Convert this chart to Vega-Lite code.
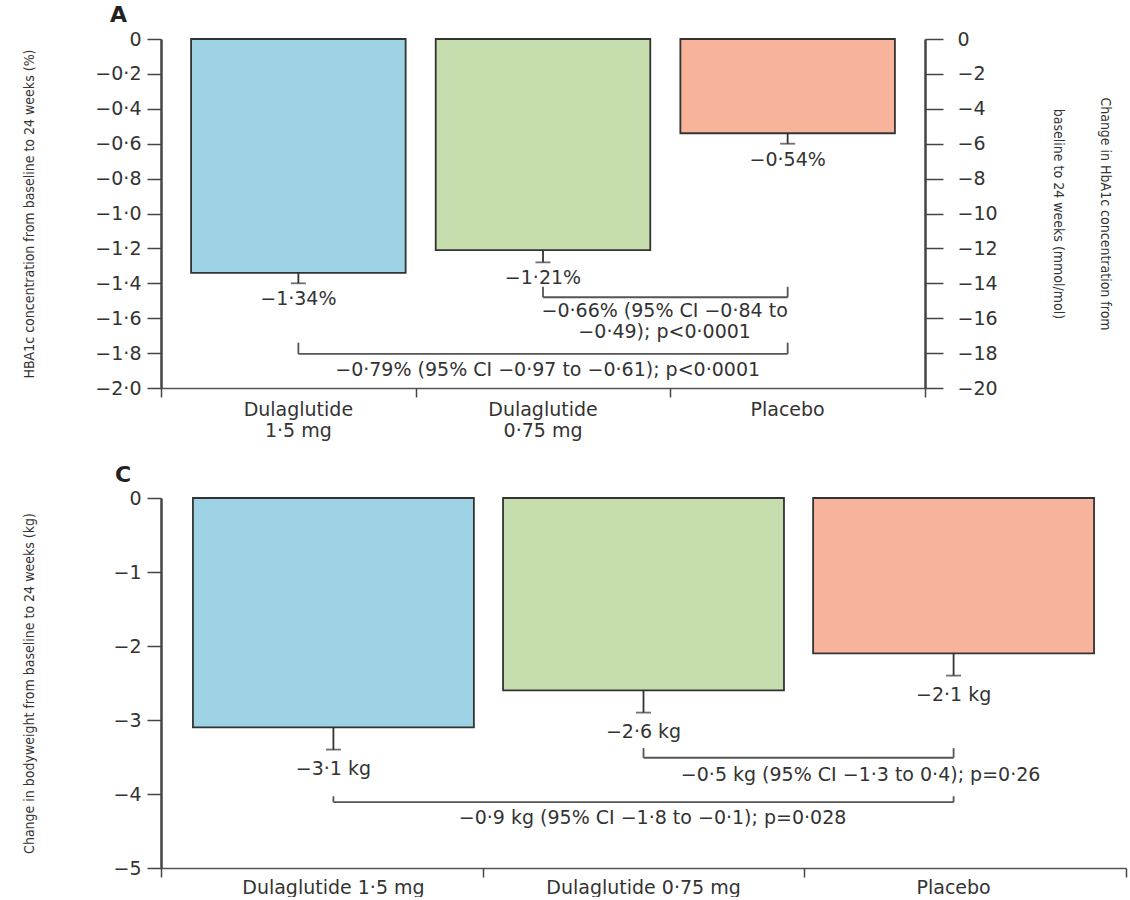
{
  "$schema": "https://vega.github.io/schema/vega-lite/v6.json",
  "padding": {"left": 22, "top": 4, "right": 0, "bottom": 0},
  "spacing": 24,
  "datasets": {
    "hba": [
      {"group": "Dulaglutide 1·5 mg", "change": -1.34, "low": -1.40},
      {"group": "Dulaglutide 0·75 mg", "change": -1.21, "low": -1.28},
      {"group": "Placebo", "change": -0.54, "low": -0.60}
    ],
    "hbaCmp": [
      {"pair": "0.75 vs placebo", "group": "Dulaglutide 0·75 mg", "group2": "Placebo", "level": -1.48, "top": -1.42, "text": "−0·66% (95% CI −0·84 to\n−0·49); p<0·0001"},
      {"pair": "1.5 vs placebo", "group": "Dulaglutide 1·5 mg", "group2": "Placebo", "level": -1.805, "top": -1.74, "text": "−0·79% (95% CI −0·97 to −0·61); p<0·0001"}
    ],
    "weight": [
      {"group": "Dulaglutide 1·5 mg", "change": -3.1, "low": -3.4},
      {"group": "Dulaglutide 0·75 mg", "change": -2.6, "low": -2.9},
      {"group": "Placebo", "change": -2.1, "low": -2.4}
    ],
    "weightCmp": [
      {"pair": "0.75 vs placebo", "group": "Dulaglutide 0·75 mg", "group2": "Placebo", "level": -3.51, "top": -3.38, "text": "−0·5 kg (95% CI −1·3 to 0·4); p=0·26"},
      {"pair": "1.5 vs placebo", "group": "Dulaglutide 1·5 mg", "group2": "Placebo", "level": -4.11, "top": -4.03, "text": "−0·9 kg (95% CI −1·8 to −0·1); p=0·028"}
    ]
  },
  "vconcat": [
    {
      "width": 764,
      "height": 349,
      "title": {"text": "A", "anchor": "start", "frame": "group", "fontSize": 22, "fontWeight": "bold", "font": "DejaVu Sans", "color": "#222", "dx": -51, "offset": 3},
      "layer": [
        {
          "layer": [
            {
              "data": {"name": "hba"},
              "mark": {"type": "bar", "stroke": "#333", "strokeWidth": 1.8},
              "encoding": {
                "x": {"field": "group", "type": "nominal", "sort": null,
                  "scale": {"domain": ["Dulaglutide 1·5 mg", "Dulaglutide 0·75 mg", "Placebo"], "paddingInner": 0.123, "paddingOuter": 0.123},
                  "axis": {"title": null, "orient": "bottom", "ticks": false, "tickSize": 0, "labelPadding": 12, "labelAngle": 0, "labelFontSize": 19, "labelLineHeight": 21, "labelBaseline": "top", "labelLimit": 0,
                    "labelExpr": "split(replace(datum.label, 'tide ', 'tide|'), '|')", "domainWidth": 1.5, "domainColor": "#555"}},
                "y": {"field": "change", "type": "quantitative",
                  "scale": {"domain": [-2, 0], "nice": false, "zero": false}, "axis": null},
                "color": {"field": "group", "type": "nominal", "legend": null,
                  "scale": {"domain": ["Dulaglutide 1·5 mg", "Dulaglutide 0·75 mg", "Placebo"], "range": ["#9DD3E5", "#C6DEAE", "#F8B49A"]}}
              }
            },
            {
              "data": {"name": "hba"},
              "mark": {"type": "rule", "color": "#333", "strokeWidth": 1.8},
              "encoding": {
                "x": {"field": "group", "type": "nominal"},
                "y": {"field": "change", "type": "quantitative", "axis": null},
                "y2": {"field": "low"}
              }
            },
            {
              "data": {"name": "hba"},
              "mark": {"type": "tick", "orient": "horizontal", "color": "#333", "size": 15, "thickness": 1.8},
              "encoding": {
                "x": {"field": "group", "type": "nominal"},
                "y": {"field": "low", "type": "quantitative", "axis": null}
              }
            },
            {
              "data": {"name": "hba"},
              "transform": [{"calculate": "replace(format(datum.change, '.2f'), '.', '·') + '%'", "as": "valueLabel"}],
              "mark": {"type": "text", "fontSize": 19, "baseline": "middle", "dy": 16, "color": "#333"},
              "encoding": {
                "x": {"field": "group", "type": "nominal"},
                "y": {"field": "low", "type": "quantitative", "axis": null},
                "text": {"field": "valueLabel"}
              }
            },
            {
              "mark": {"type": "rule", "color": "#999", "strokeWidth": 1.5, "strokeDash": [6, 4]},
              "encoding": {"y": {"datum": 0, "type": "quantitative", "axis": null}}
            },
            {
              "data": {"name": "hbaCmp"},
              "mark": {"type": "rule", "color": "#555", "strokeWidth": 1.8},
              "encoding": {
                "x": {"field": "group", "type": "nominal", "bandPosition": 0.5},
                "x2": {"field": "group2", "bandPosition": 0.5},
                "y": {"field": "level", "type": "quantitative", "axis": null}
              }
            },
            {
              "data": {"name": "hbaCmp"},
              "transform": [{"fold": ["group", "group2"], "as": ["end", "cat"]}],
              "mark": {"type": "rule", "color": "#555", "strokeWidth": 1.8},
              "encoding": {
                "x": {"field": "cat", "type": "nominal"},
                "y": {"field": "level", "type": "quantitative", "axis": null},
                "y2": {"field": "top"}
              }
            },
            {
              "data": {"name": "hbaCmp"},
              "transform": [{"filter": "datum.pair == '0.75 vs placebo'"}],
              "mark": {"type": "text", "fontSize": 19, "baseline": "top", "align": "center", "lineBreak": "\n", "lineHeight": 21, "dx": -123, "dy": 5, "color": "#333"},
              "encoding": {
                "x": {"field": "group2", "type": "nominal"},
                "y": {"field": "level", "type": "quantitative", "axis": null},
                "text": {"field": "text"}
              }
            },
            {
              "data": {"name": "hbaCmp"},
              "transform": [{"filter": "datum.pair == '1.5 vs placebo'"}],
              "mark": {"type": "text", "fontSize": 19, "baseline": "middle", "align": "center", "dx": -240, "dy": 16, "color": "#333"},
              "encoding": {
                "x": {"field": "group2", "type": "nominal"},
                "y": {"field": "level", "type": "quantitative", "axis": null},
                "text": {"field": "text"}
              }
            }
          ]
        },
        {
          "data": {"values": [{"boundary": 0}, {"boundary": 3}]},
          "mark": {"type": "point", "opacity": 0},
          "encoding": {
            "x": {"field": "boundary", "type": "quantitative",
              "scale": {"domain": [0, 3], "nice": false, "zero": false},
              "axis": {"orient": "bottom", "title": null, "values": [0, 1, 2, 3], "labels": false, "domain": false, "tickSize": 9, "tickWidth": 1.5, "tickColor": "#444"}},
            "y": {"datum": 0, "type": "quantitative",
              "scale": {"domain": [-2, 0], "nice": false, "zero": false},
              "axis": {"orient": "left", "title": "HBA1c concentration from baseline to 24 weeks (%)",
                "values": [0, -0.2, -0.4, -0.6, -0.8, -1.0, -1.2, -1.4, -1.6, -1.8, -2.0],
                "labelOverlap": false,
                "labelExpr": "datum.value == 0 ? '0' : replace(format(datum.value, '.1f'), '.', '·')",
                "labelFontSize": 19, "labelPadding": 6, "tickSize": 14, "tickWidth": 1.5, "domainWidth": 2.5,
                "titleFontSize": 14, "titlePadding": 10, "minExtent": 115, "maxExtent": 115}}
          }
        },
        {
          "data": {"values": [{"boundary": 0}]},
          "mark": {"type": "point", "opacity": 0},
          "encoding": {
            "y": {"datum": 0, "type": "quantitative",
              "scale": {"domain": [-2, 0], "nice": false, "zero": false},
              "axis": {"orient": "right", "title": ["Change in HbA1c concentration from", "baseline to 24 weeks (mmol/mol)"],
                "values": [0, -0.2, -0.4, -0.6, -0.8, -1.0, -1.2, -1.4, -1.6, -1.8, -2.0],
                "labelOverlap": false,
                "labelExpr": "datum.value == 0 ? '0' : format(datum.value * 10, '.0f')",
                "labelFontSize": 19, "labelPadding": 14, "tickSize": 18, "tickWidth": 1.5, "domainWidth": 2.5,
                "titleFontSize": 14, "titleLineHeight": 47, "titlePadding": 53}}
          }
        }
      ],
      "resolve": {"scale": {"x": "independent"}, "axis": {"x": "independent", "y": "independent"}}
    },
    {
      "width": 965,
      "height": 370,
      "title": {"text": "C", "anchor": "start", "frame": "group", "fontSize": 22, "fontWeight": "bold", "font": "DejaVu Sans", "color": "#222", "dx": -46, "offset": 2},
      "layer": [
        {
          "layer": [
            {
              "data": {"name": "weight"},
              "mark": {"type": "bar", "stroke": "#333", "strokeWidth": 1.8},
              "encoding": {
                "x": {"field": "group", "type": "nominal", "sort": null,
                  "scale": {"domain": ["Dulaglutide 1·5 mg", "Dulaglutide 0·75 mg", "Placebo"], "paddingInner": 0.094, "paddingOuter": 0.103},
                  "axis": {"title": null, "orient": "bottom", "ticks": false, "tickSize": 0, "labelPadding": 10, "labelAngle": 0, "labelFontSize": 19, "labelBaseline": "top", "labelLimit": 0, "domainWidth": 1.5, "domainColor": "#555"}},
                "y": {"field": "change", "type": "quantitative",
                  "scale": {"domain": [-5, 0], "nice": false, "zero": false},
                  "axis": {"orient": "left", "title": "Change in bodyweight from baseline to 24 weeks (kg)",
                    "values": [0, -1, -2, -3, -4, -5],
                    "labelOverlap": false,
                    "labelExpr": "format(datum.value, 'd')",
                    "labelFontSize": 19, "labelPadding": 6, "tickSize": 14, "tickWidth": 1.5, "domainWidth": 2.5,
                    "titleFontSize": 14, "titlePadding": 10, "minExtent": 115, "maxExtent": 115}},
                "color": {"field": "group", "type": "nominal", "legend": null,
                  "scale": {"domain": ["Dulaglutide 1·5 mg", "Dulaglutide 0·75 mg", "Placebo"], "range": ["#9DD3E5", "#C6DEAE", "#F8B49A"]}}
              }
            },
            {
              "data": {"name": "weight"},
              "mark": {"type": "rule", "color": "#333", "strokeWidth": 1.8},
              "encoding": {
                "x": {"field": "group", "type": "nominal"},
                "y": {"field": "change", "type": "quantitative"},
                "y2": {"field": "low"}
              }
            },
            {
              "data": {"name": "weight"},
              "mark": {"type": "tick", "orient": "horizontal", "color": "#333", "size": 15, "thickness": 1.8},
              "encoding": {
                "x": {"field": "group", "type": "nominal"},
                "y": {"field": "low", "type": "quantitative"}
              }
            },
            {
              "data": {"name": "weight"},
              "transform": [{"calculate": "replace(format(datum.change, '.1f'), '.', '·') + ' kg'", "as": "valueLabel"}],
              "mark": {"type": "text", "fontSize": 19, "baseline": "middle", "dy": 19, "color": "#333"},
              "encoding": {
                "x": {"field": "group", "type": "nominal"},
                "y": {"field": "low", "type": "quantitative"},
                "text": {"field": "valueLabel"}
              }
            },
            {
              "mark": {"type": "rule", "color": "#999", "strokeWidth": 1.5, "strokeDash": [6, 4]},
              "encoding": {"y": {"datum": 0, "type": "quantitative"}}
            },
            {
              "data": {"name": "weightCmp"},
              "mark": {"type": "rule", "color": "#555", "strokeWidth": 1.8},
              "encoding": {
                "x": {"field": "group", "type": "nominal", "bandPosition": 0.5},
                "x2": {"field": "group2", "bandPosition": 0.5},
                "y": {"field": "level", "type": "quantitative"}
              }
            },
            {
              "data": {"name": "weightCmp"},
              "transform": [{"fold": ["group", "group2"], "as": ["end", "cat"]}],
              "mark": {"type": "rule", "color": "#555", "strokeWidth": 1.8},
              "encoding": {
                "x": {"field": "cat", "type": "nominal"},
                "y": {"field": "level", "type": "quantitative"},
                "y2": {"field": "top"}
              }
            },
            {
              "data": {"name": "weightCmp"},
              "transform": [{"filter": "datum.pair == '0.75 vs placebo'"}],
              "mark": {"type": "text", "fontSize": 19, "baseline": "middle", "align": "center", "dx": -93, "dy": 17, "color": "#333"},
              "encoding": {
                "x": {"field": "group2", "type": "nominal"},
                "y": {"field": "level", "type": "quantitative"},
                "text": {"field": "text"}
              }
            },
            {
              "data": {"name": "weightCmp"},
              "transform": [{"filter": "datum.pair == '1.5 vs placebo'"}],
              "mark": {"type": "text", "fontSize": 19, "baseline": "middle", "align": "center", "dx": -301, "dy": 16, "color": "#333"},
              "encoding": {
                "x": {"field": "group2", "type": "nominal"},
                "y": {"field": "level", "type": "quantitative"},
                "text": {"field": "text"}
              }
            }
          ]
        },
        {
          "data": {"values": [{"boundary": 0}, {"boundary": 3}]},
          "mark": {"type": "point", "opacity": 0},
          "encoding": {
            "x": {"field": "boundary", "type": "quantitative",
              "scale": {"domain": [0, 3], "nice": false, "zero": false},
              "axis": {"orient": "bottom", "title": null, "values": [0, 1, 2, 3], "labels": false, "domain": false, "tickSize": 9, "tickWidth": 1.5, "tickColor": "#444"}},
            "y": {"datum": 0, "type": "quantitative",
              "scale": {"domain": [-5, 0], "nice": false, "zero": false},
              "axis": null}
          }
        }
      ],
      "resolve": {"scale": {"x": "independent"}, "axis": {"x": "independent", "y": "independent"}}
    }
  ],
  "config": {
    "view": {"stroke": null},
    "font": "DejaVu Sans",
    "axis": {
      "grid": false,
      "labelOverlap": false,
      "labelFont": "DejaVu Sans",
      "labelColor": "#333",
      "domainColor": "#444",
      "tickColor": "#444",
      "titleFont": "'Liberation Sans Narrow', 'DejaVu Sans Condensed', 'Roboto Condensed', 'Liberation Sans', sans-serif",
      "titleFontWeight": "normal",
      "titleColor": "#333"
    },
    "axisY": {"labelOverlap": false}
  }
}
